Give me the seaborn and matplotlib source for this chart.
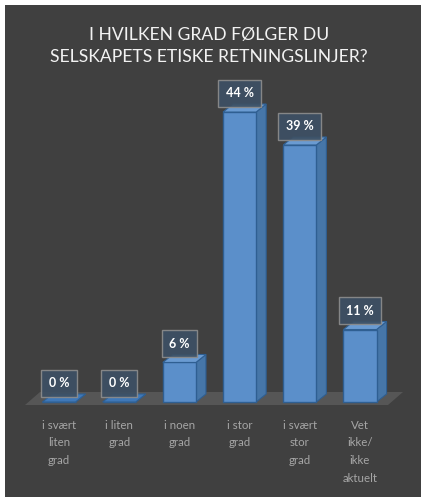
import matplotlib
matplotlib.use("Agg")
import matplotlib.pyplot as plt
from matplotlib.patches import Polygon, Rectangle
import seaborn as sns
import pandas as pd

categories = ["i svært\nliten\ngrad", "i liten\ngrad", "i noen\ngrad", "i stor\ngrad",
              "i svært\nstor\ngrad", "Vet\nikke/\nikke\naktuelt"]
values = [0, 0, 6, 44, 39, 11]
value_labels = ["0 %", "0 %", "6 %", "44 %", "39 %", "11 %"]
title = "I HVILKEN GRAD FØLGER DU\nSELSKAPETS ETISKE RETNINGSLINJER?"

BG = "#404040"
FRONT = "#5b8fca"
SIDE = "#4676a8"
TOP = "#6a9bd2"
EDGE = "#2f5f92"

sns.set_theme(style="white")
plt.rcParams["font.family"] = ["Lato", "DejaVu Sans"]

W, H = 421, 497
fig = plt.figure(figsize=(W / 100, H / 100), dpi=100)
fig.patch.set_facecolor("white")
fig.patches.append(Rectangle((5 / W, 0), 1 - 5 / W, 1 - 5 / H, transform=fig.transFigure,
                             facecolor=BG, edgecolor="none", zorder=-5))

# axes geometry (pixels)
px_per_cat = 60.2
x0_px = 59
px_per_pct = 6.59
base_px = 402  # from top
xlim = (-0.7, 5.75)
ylim = (-1.0, 52.0)
left = x0_px + xlim[0] * px_per_cat
right = x0_px + xlim[1] * px_per_cat
bottom_top = base_px - ylim[0] * px_per_pct
top_top = base_px - ylim[1] * px_per_pct
ax = fig.add_axes([left / W, 1 - bottom_top / H, (right - left) / W, (bottom_top - top_top) / H])
ax.set_facecolor("none")
ax.set_zorder(2)

df = pd.DataFrame({"cat": categories, "val": values})
sns.barplot(data=df, x="cat", y="val", ax=ax, color=FRONT, width=0.55,
            saturation=1, edgecolor=EDGE, linewidth=1.0, zorder=3)
ax.set_xlim(*xlim)
ax.set_ylim(*ylim)

dx = 10 / px_per_cat
dy = 8 / px_per_pct

fx = lambda p: (p - x0_px) / px_per_cat
fy = lambda p: (base_px - p) / px_per_pct
floor = Polygon([(fx(25), fy(405)), (fx(388), fy(405)), (fx(403), fy(392)), (fx(40), fy(392))],
                closed=True, facecolor="#565656", edgecolor="none", zorder=1)
ax.add_patch(floor)

bars = [p for p in ax.patches if isinstance(p, Rectangle)]
for bar, lab in zip(bars, value_labels):
    x = bar.get_x()
    w = bar.get_width()
    h = bar.get_height()
    side = Polygon([(x + w, 0), (x + w + dx, dy), (x + w + dx, h + dy), (x + w, h)],
                   closed=True, facecolor=SIDE, edgecolor=EDGE, linewidth=0.8, zorder=2.5)
    topf = Polygon([(x, h), (x + dx, h + dy), (x + w + dx, h + dy), (x + w, h)],
                   closed=True, facecolor=TOP if h > 0 else "#3f78b8", edgecolor=EDGE,
                   linewidth=0.8, zorder=3.5)
    ax.add_patch(side)
    ax.add_patch(topf)
    ax.annotate(lab, xy=(x + w / 2, h), xytext=(0, 13.5), textcoords="offset points",
                ha="center", va="center", color="white", fontsize=9, fontweight="bold",
                bbox=dict(boxstyle="square,pad=0.6", facecolor="#3d5064", alpha=0.92,
                          edgecolor="#8c8c8c", linewidth=1.0), zorder=5)

ax.set_xlabel("")
ax.set_ylabel("")
ax.set_yticks([])
ax.tick_params(axis="x", length=0, pad=8, labelsize=8.3, labelcolor="#a6a6a6")
for t in ax.get_xticklabels():
    t.set_linespacing(1.75)
    t.set_va("top")
for s in ax.spines.values():
    s.set_visible(False)

fig.text(209 / W, 1 - 46 / H, title, ha="center", va="center", color="#f2f2f2",
         fontsize=12.6, linespacing=1.45)

fig.savefig("out.png", dpi=100, facecolor=fig.get_facecolor())
